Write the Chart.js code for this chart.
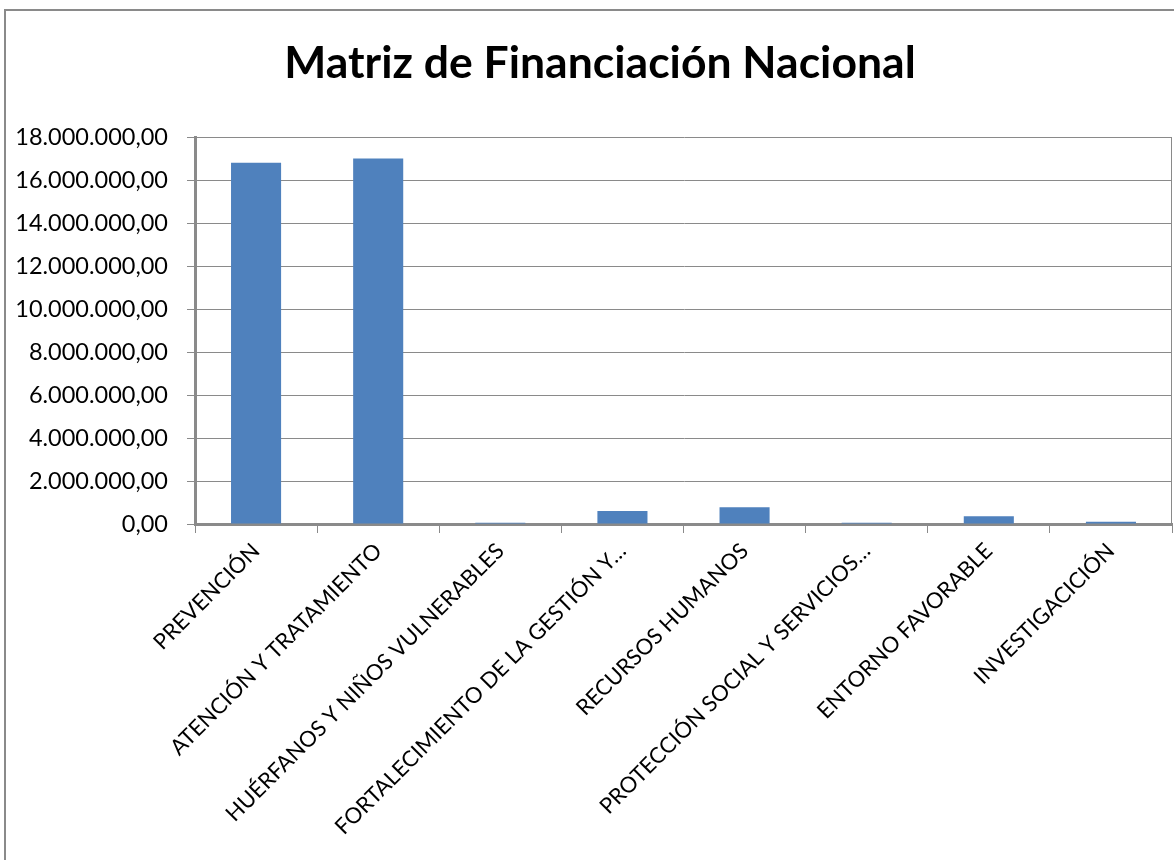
<!DOCTYPE html>
<html>
<head>
<meta charset="utf-8">
<script src="https://cdn.jsdelivr.net/npm/chart.js@4"></script>
<style>
  html, body { margin: 0; padding: 0; background: #fff; overflow: hidden; }
  #wrap { position: absolute; left: 0; top: 0; width: 1200px; height: 860px; }
  #frame { position: absolute; left: 4px; top: 9px; width: 1300px; height: 1000px;
           border: 2px solid #8a8a8a; pointer-events: none; }
</style>
</head>
<body>
<div id="wrap">
  <canvas id="c" width="1200" height="860"></canvas>
  <div id="frame"></div>
</div>
<script>
const title = 'Matriz de Financiación Nacional';
const categories = [
  'PREVENCIÓN',
  'ATENCIÓN Y TRATAMIENTO',
  'HUÉRFANOS Y NIÑOS VULNERABLES',
  'FORTALECIMIENTO DE LA GESTIÓN Y…',
  'RECURSOS HUMANOS',
  'PROTECCIÓN SOCIAL Y SERVICIOS…',
  'ENTORNO FAVORABLE',
  'INVESTIGACICIÓN'
];
const values = [16800000, 17000000, 60000, 600000, 780000, 60000, 360000, 110000];
const yTickValues = [0, 2000000, 4000000, 6000000, 8000000, 10000000, 12000000, 14000000, 16000000, 18000000];

function fmt(v) {
  const s = Math.round(v).toString().replace(/\B(?=(\d{3})+(?!\d))/g, '.');
  return s + ',00';
}

const rightBorder = {
  id: 'rightBorder',
  afterDatasetsDraw(chart) {
    const a = chart.chartArea, ctx = chart.ctx;
    ctx.save();
    ctx.strokeStyle = '#8a8a8a';
    ctx.lineWidth = 1;
    ctx.beginPath();
    ctx.moveTo(a.right - 0.5, a.top);
    ctx.lineTo(a.right - 0.5, a.bottom);
    ctx.stroke();
    ctx.restore();
  }
};

new Chart(document.getElementById('c'), {
  type: 'bar',
  data: {
    labels: categories,
    datasets: [{
      data: values,
      backgroundColor: '#4F81BD',
      borderWidth: 0,
      categoryPercentage: 0.41,
      barPercentage: 1
    }]
  },
  options: {
    responsive: false,
    animation: false,
    layout: { padding: 0 },
    plugins: {
      legend: { display: false },
      tooltip: { enabled: false },
      title: {
        display: true,
        text: title,
        color: '#000',
        font: { family: 'Lato', size: 44.5, weight: 'bold', lineHeight: 1.2 },
        padding: { top: 37, bottom: 46.6 }
      }
    },
    scales: {
      x: {
        grid: { display: true, drawOnChartArea: false, drawTicks: true, tickLength: 9, color: '#8a8a8a', offset: true },
        border: { display: true, color: '#8a8a8a', width: 3 },
        ticks: {
          color: '#000',
          font: { family: 'Lato', size: 22 },
          maxRotation: 45, minRotation: 45, autoSkip: false, padding: 5
        },
        afterFit(scale) { scale.height = 336; }
      },
      y: {
        min: 0, max: 18000000,
        afterBuildTicks(scale) { scale.ticks = yTickValues.map(v => ({ value: v })); },
        grid: { color: '#8a8a8a', lineWidth: 1, tickLength: 8, drawTicks: true },
        border: { display: true, color: '#8a8a8a', width: 3 },
        ticks: {
          color: '#000',
          font: { family: 'Lato', size: 23.5 },
          padding: 19,
          callback: (v) => fmt(v)
        },
        afterFit(scale) { scale.width = 195; }
      },
      yRight: {
        position: 'right',
        display: true,
        min: 0, max: 18000000,
        grid: { display: false, drawTicks: false },
        border: { display: false },
        ticks: { display: false },
        afterFit(scale) { scale.width = 28; }
      }
    }
  },
  plugins: [rightBorder]
});
</script>
</body>
</html>
